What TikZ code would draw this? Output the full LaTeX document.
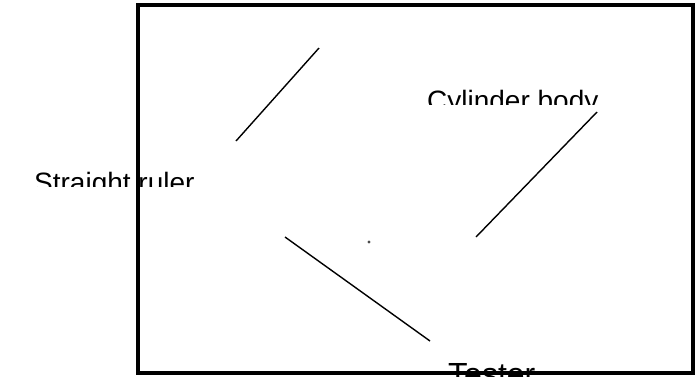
\documentclass[tikz,border=0pt]{standalone}
\usepackage{fontspec}
\setmainfont{Liberation Sans}
\usetikzlibrary{calc}

\tikzset{
  lbl/.style={inner sep=0pt, anchor=base west, font=\fontsize{28}{32}\selectfont},
  leader/.style={line width=1.4pt, black}
}

\begin{document}
\begin{tikzpicture}[x=1pt,y=-1pt]
\useasboundingbox (0,0) rectangle (695,376);
% clipped labels
\begin{scope}
\clip (0,0) rectangle (695,186);
\node[lbl] (ruler) at (34,192) {Straight ruler};
\end{scope}
\begin{scope}
\clip (0,0) rectangle (695,104);
\node[lbl] (body) at (427,110) {Cylinder body};
\end{scope}
\begin{scope}
\clip (0,0) rectangle (695,376);
\node[lbl, font=\fontsize{32}{36}\selectfont] (tester) at (448,385) {Tester};
\end{scope}
\draw[line width=4pt] (138,5) rectangle (693,373);
% leader lines
\coordinate (r1) at (236,141);
\coordinate (r2) at (319,48);
\coordinate (b1) at (476,237);
\coordinate (b2) at (597,112);
\coordinate (t1) at (285,237);
\coordinate (t2) at (430,341);
\draw[leader] (r1) -- (r2);
\draw[leader] (b1) -- (b2);
\draw[leader] (t1) -- (t2);
\fill[gray!60!black] (369,242) circle (1.6);
\end{tikzpicture}
\end{document}
